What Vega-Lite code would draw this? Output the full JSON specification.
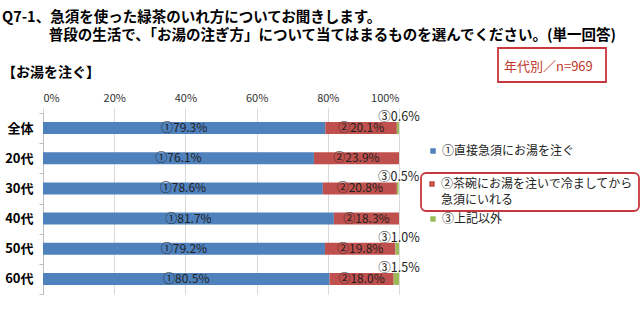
{
  "$schema": "https://vega.github.io/schema/vega-lite/v6.json",
  "width": 356,
  "height": 181,
  "autosize": {"type": "none"},
  "padding": {"left": 43, "top": 113, "right": 241, "bottom": 30},
  "background": "white",
  "config": {
    "font": "Noto Sans CJK JP",
    "view": {"stroke": null},
    "style": {"guide-label": {"lineHeight": 16}},
    "axisX": {"domain": false, "tickColor": "#D9D9D9", "tickSize": 5, "gridColor": "#D9D9D9", "labelFontSize": 11, "labelColor": "#333333", "labelPadding": 5},
    "axisY": {"labelFontSize": 13, "labelFontWeight": "bold", "labelColor": "#000000", "domainColor": "#BFBFBF", "tickColor": "#BFBFBF", "tickSize": 4, "labelPadding": 6, "tickBand": "extent", "grid": false, "title": null},
    "legend": {"padding": 0, "title": null, "strokeWidth": 1.8}
  },
  "title": {
    "text": ["Q7-1、急須を使った緑茶のいれ方についてお聞きします。", "\u200B　　　 普段の生活で、「お湯の注ぎ方」について当てはまるものを選んでください。(単一回答)"],
    "subtitle": "【お湯を注ぐ】",
    "anchor": "start",
    "frame": "group",
    "dx": -41,
    "dy": 44,
    "fontSize": 14.5,
    "fontWeight": "bold",
    "color": "#000000",
    "lineHeight": 17.5,
    "subtitleFontSize": 14,
    "subtitleFontWeight": "bold",
    "subtitleColor": "#000000",
    "subtitlePadding": 23,
    "offset": 10
  },
  "data": {
    "values": [
      {"age": "全体", "cat": "①直接急須にお湯を注ぐ", "k": "a", "pct": 79.3},
      {"age": "全体", "cat": "②茶碗にお湯を注いで冷ましてから急須にいれる", "k": "b", "pct": 20.1},
      {"age": "全体", "cat": "③上記以外", "k": "c", "pct": 0.6},
      {"age": "20代", "cat": "①直接急須にお湯を注ぐ", "k": "a", "pct": 76.1},
      {"age": "20代", "cat": "②茶碗にお湯を注いで冷ましてから急須にいれる", "k": "b", "pct": 23.9},
      {"age": "20代", "cat": "③上記以外", "k": "c", "pct": 0},
      {"age": "30代", "cat": "①直接急須にお湯を注ぐ", "k": "a", "pct": 78.6},
      {"age": "30代", "cat": "②茶碗にお湯を注いで冷ましてから急須にいれる", "k": "b", "pct": 20.8},
      {"age": "30代", "cat": "③上記以外", "k": "c", "pct": 0.5},
      {"age": "40代", "cat": "①直接急須にお湯を注ぐ", "k": "a", "pct": 81.7},
      {"age": "40代", "cat": "②茶碗にお湯を注いで冷ましてから急須にいれる", "k": "b", "pct": 18.3},
      {"age": "40代", "cat": "③上記以外", "k": "c", "pct": 0},
      {"age": "50代", "cat": "①直接急須にお湯を注ぐ", "k": "a", "pct": 79.2},
      {"age": "50代", "cat": "②茶碗にお湯を注いで冷ましてから急須にいれる", "k": "b", "pct": 19.8},
      {"age": "50代", "cat": "③上記以外", "k": "c", "pct": 1.0},
      {"age": "60代", "cat": "①直接急須にお湯を注ぐ", "k": "a", "pct": 80.5},
      {"age": "60代", "cat": "②茶碗にお湯を注いで冷ましてから急須にいれる", "k": "b", "pct": 18.0},
      {"age": "60代", "cat": "③上記以外", "k": "c", "pct": 1.5}
    ]
  },
  "transform": [
    {"stack": "pct", "groupby": ["age"], "sort": [{"field": "k", "order": "ascending"}], "as": ["x0", "x1"]},
    {"calculate": "(datum.x0 + datum.x1) / 2", "as": "mid"},
    {"calculate": "substring(datum.cat, 0, 1) + format(datum.pct, '.1f') + '%'", "as": "label"}
  ],
  "encoding": {
    "y": {"field": "age", "type": "nominal", "sort": null, "scale": {"paddingInner": 0, "paddingOuter": 0}, "axis": {"title": null}}
  },
  "layer": [
    {
      "transform": [{"filter": {"field": "k", "equal": "a"}}],
      "mark": {"type": "bar", "height": {"band": 0.4}},
      "encoding": {
        "x": {"field": "x0", "type": "quantitative", "scale": {"domain": [0, 100]}, "axis": {"orient": "top", "title": null, "values": [0, 20, 40, 60, 80, 100], "labelExpr": "datum.value + '%'"}},
        "x2": {"field": "x1"},
        "color": {"field": "cat", "type": "nominal", "scale": {"range": ["#4F81BD"]},
          "legend": {"orient": "none", "legendX": 384, "legendY": 32, "symbolType": "square", "symbolSize": 30, "symbolStrokeWidth": 0, "labelFontSize": 12, "labelColor": "#222222", "labelLimit": 400, "labelOffset": 3}}
      }
    },
    {
      "transform": [{"filter": {"field": "k", "equal": "b"}}],
      "mark": {"type": "bar", "height": {"band": 0.4}},
      "encoding": {
        "x": {"field": "x0", "type": "quantitative", "scale": {"domain": [0, 100]}, "axis": {"orient": "top", "title": null, "values": [0, 20, 40, 60, 80, 100], "labelExpr": "datum.value + '%'"}},
        "x2": {"field": "x1"},
        "color": {"field": "cat", "type": "nominal", "scale": {"range": ["#C0504D"]},
          "legend": {"orient": "none", "legendX": 378, "legendY": 60, "symbolType": "square", "symbolSize": 30, "symbolStrokeWidth": 0, "labelFontSize": 12, "labelColor": "#222222", "labelLimit": 400, "labelOffset": 3,
            "labelExpr": "['②茶碗にお湯を注いで冷ましてから', '急須にいれる']",
            "padding": 5, "strokeColor": "#C8383D", "cornerRadius": 5}}
      }
    },
    {
      "transform": [{"filter": {"field": "k", "equal": "c"}}],
      "mark": {"type": "bar", "height": {"band": 0.4}},
      "encoding": {
        "x": {"field": "x0", "type": "quantitative", "scale": {"domain": [0, 100]}, "axis": {"orient": "top", "title": null, "values": [0, 20, 40, 60, 80, 100], "labelExpr": "datum.value + '%'"}},
        "x2": {"field": "x1"},
        "color": {"field": "cat", "type": "nominal", "scale": {"range": ["#9BBB59"]},
          "legend": {"orient": "none", "legendX": 384, "legendY": 100, "symbolType": "square", "symbolSize": 30, "symbolStrokeWidth": 0, "labelFontSize": 12, "labelColor": "#222222", "labelLimit": 400, "labelOffset": 3}}
      }
    },
    {
      "transform": [{"filter": {"field": "k", "oneOf": ["a", "b"]}}],
      "mark": {"type": "text", "fontSize": 12, "align": "center", "baseline": "middle"},
      "encoding": {
        "x": {"field": "mid", "type": "quantitative", "scale": {"domain": [0, 100]}, "axis": {"orient": "top", "title": null, "values": [0, 20, 40, 60, 80, 100], "labelExpr": "datum.value + '%'"}},
        "text": {"field": "label"},
        "color": {"datum": "n", "type": "nominal", "scale": {"range": ["#222222"]},
          "legend": {"orient": "none", "legendX": 455, "legendY": -65,
            "title": ["\u200B", "年代別／n=969\u2002\u200B"], "titleLineHeight": 7, "titleColor": "#C0392B", "titleFontSize": 13, "titleFontWeight": "normal", "titlePadding": 0, "titleAnchor": "start", "titleLimit": 400,
            "symbolSize": 1, "symbolOpacity": 0, "symbolStrokeWidth": 0.01, "labelOffset": 1, "labelFontSize": 1, "labelExpr": "''",
            "padding": 6, "strokeColor": "#C8383D"}}
      }
    },
    {
      "transform": [{"filter": {"and": [{"field": "k", "equal": "c"}, {"field": "pct", "gt": 0}]}}],
      "mark": {"type": "text", "fontSize": 12.5, "align": "center", "baseline": "middle", "dy": -11, "color": "#222222"},
      "encoding": {
        "x": {"field": "x1", "type": "quantitative", "scale": {"domain": [0, 100]}, "axis": {"orient": "top", "title": null, "values": [0, 20, 40, 60, 80, 100], "labelExpr": "datum.value + '%'"}},
        "text": {"field": "label"}
      }
    }
  ],
  "resolve": {"scale": {"color": "independent"}}
}
